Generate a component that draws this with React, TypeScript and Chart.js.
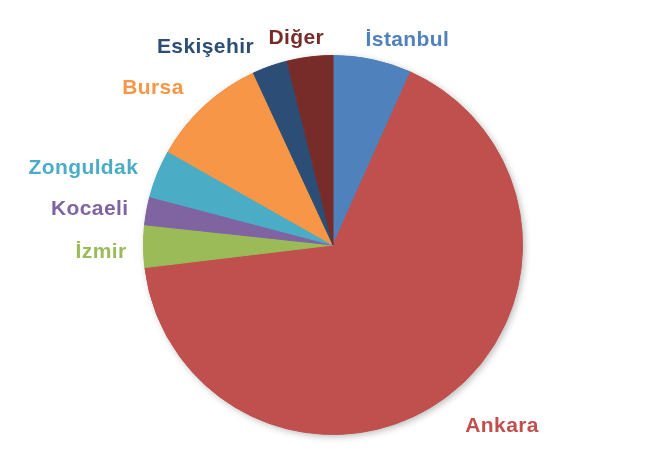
import React, { useEffect, useRef } from "react";
import { Chart, registerables } from "chart.js";

Chart.register(...registerables);

const categories = ["İstanbul", "Ankara", "İzmir", "Kocaeli", "Zonguldak", "Bursa", "Eskişehir", "Diğer"];
const shares = [6.7, 66.4, 3.6, 2.4, 4.1, 9.9, 3.0, 3.9];
const sliceColors = ["#4F81BD", "#C0504D", "#9BBB59", "#8064A2", "#4BACC6", "#F79646", "#2C4D75", "#772C2A"];
const labelNudges: number[][] = [[24, -4], [29, 12], [-7, 4], [-9, 0], [-14, 0], [-24, -6], [-45, -4], [-9, -3]];

const shadowPlugin = {
  id: "pieShadow",
  beforeDatasetsDraw(chart: any) {
    const meta = chart.getDatasetMeta(0);
    const arc = meta.data[0];
    if (!arc) return;
    const { x, y, outerRadius } = arc.getProps(["x", "y", "outerRadius"], true);
    const ctx = chart.ctx;
    ctx.save();
    ctx.shadowColor = "rgba(0,0,0,0.28)";
    ctx.shadowBlur = 7;
    ctx.shadowOffsetX = 2;
    ctx.shadowOffsetY = 2;
    ctx.beginPath();
    ctx.arc(x, y, outerRadius, 0, Math.PI * 2);
    ctx.fillStyle = "#888";
    ctx.fill();
    ctx.restore();
  },
};

const labelPlugin = {
  id: "outerLabels",
  afterDatasetsDraw(chart: any) {
    const meta = chart.getDatasetMeta(0);
    const ctx = chart.ctx;
    ctx.save();
    ctx.font = 'bold 21px "Liberation Sans", Arial, sans-serif';
    (ctx as any).letterSpacing = "0.4px";
    ctx.textAlign = "center";
    ctx.textBaseline = "alphabetic";
    meta.data.forEach((arc: any, i: number) => {
      const { x, y, startAngle, endAngle, outerRadius } = arc.getProps(
        ["x", "y", "startAngle", "endAngle", "outerRadius"],
        true
      );
      const mid = (startAngle + endAngle) / 2;
      const c = Math.cos(mid);
      const s = Math.sin(mid);
      const label = categories[i];
      const w = ctx.measureText(label).width;
      const ax = x + (outerRadius + 10) * c;
      const ay = y + (outerRadius + 10) * s;
      const cx = ax + (c * w) / 2 + labelNudges[i][0];
      const cy = ay + s * 8 + labelNudges[i][1];
      ctx.fillStyle = sliceColors[i];
      ctx.fillText(label, cx, cy + 7.5);
    });
    ctx.restore();
  },
};

export default function App() {
  const canvasRef = useRef<HTMLCanvasElement | null>(null);

  useEffect(() => {
    if (!canvasRef.current) return;
    const chart = new Chart(canvasRef.current, {
      type: "pie",
      data: {
        labels: categories,
        datasets: [
          {
            data: shares,
            backgroundColor: sliceColors,
            borderColor: sliceColors,
            borderWidth: 1,
          },
        ],
      },
      options: {
        animation: false,
        responsive: true,
        maintainAspectRatio: false,
        layout: { padding: { left: 135, right: 128, top: 47, bottom: 20 } },
        plugins: {
          legend: { display: false },
          tooltip: { enabled: false },
        },
      },
      plugins: [shadowPlugin, labelPlugin],
    });
    return () => chart.destroy();
  }, []);

  return (
    <div style={{ width: "643px", height: "447px", position: "relative" }}>
      <canvas ref={canvasRef} />
    </div>
  );
}
